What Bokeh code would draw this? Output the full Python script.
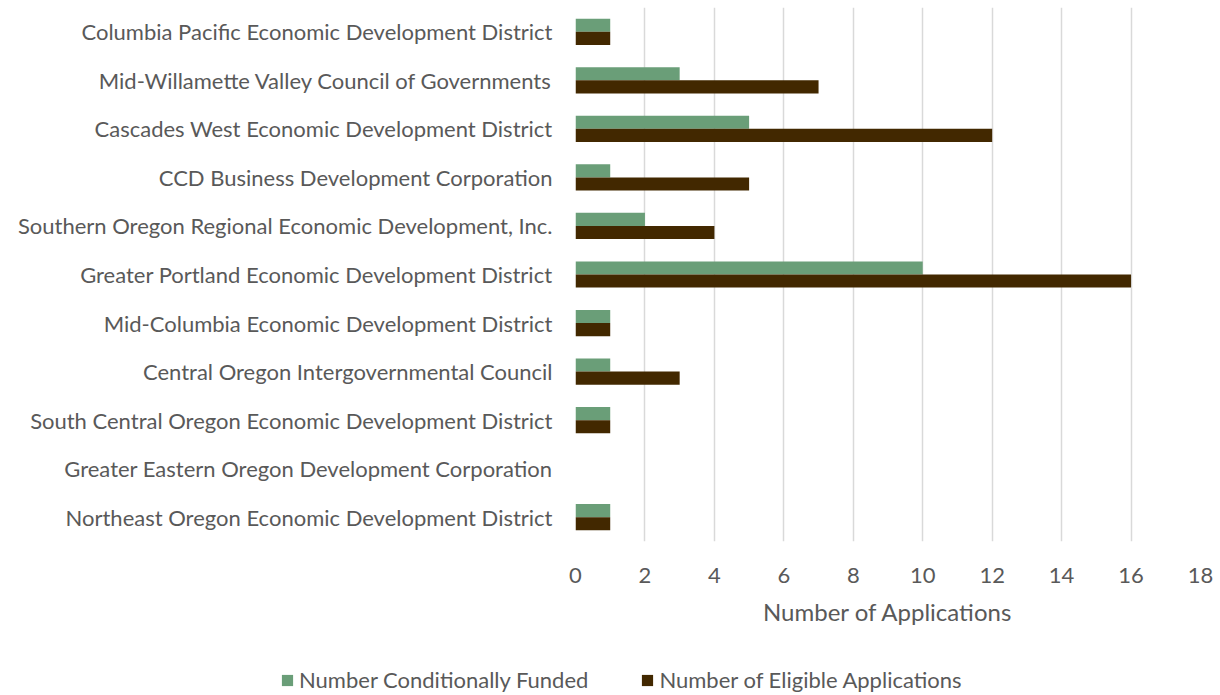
from bokeh.plotting import figure
from bokeh.models import Range1d, FixedTicker, Legend, LegendItem, ColumnDataSource
from bokeh.embed import file_html
from bokeh.resources import INLINE

districts = [
    "Columbia Pacific Economic Development District",
    "Mid-Willamette Valley Council of Governments",
    "Cascades West Economic Development District",
    "CCD Business Development Corporation",
    "Southern Oregon Regional Economic Development, Inc.",
    "Greater Portland Economic Development District",
    "Mid-Columbia Economic Development District",
    "Central Oregon Intergovernmental Council",
    "South Central Oregon Economic Development District",
    "Greater Eastern Oregon Development Corporation",
    "Northeast Oregon Economic Development District",
]
funded = [1, 3, 5, 1, 2, 10, 1, 1, 1, 0, 1]
eligible = [1, 7, 12, 5, 4, 16, 1, 3, 1, 0, 1]
x_ticks = [0, 2, 4, 6, 8, 10, 12, 14, 16, 18]
series_labels = ["Number Conditionally Funded", "Number of Eligible Applications"]

GREEN = "#6A9E78"
BROWN = "#422800"
FONT = "Lato"
TXT = "#595959"

idx = list(range(len(districts)))
bh = 0.27
src = ColumnDataSource(dict(
    y_f=[i - bh / 2 for i in idx],
    y_e=[i + bh / 2 for i in idx],
    funded=funded,
    eligible=eligible,
))

p = figure(frame_width=625, frame_height=534, output_backend="svg", toolbar_location=None,
           x_range=Range1d(0, 18), y_range=Range1d(len(districts) - 0.5, -0.5),
           min_border_left=575, min_border_top=7, min_border_right=16, min_border_bottom=0)
p.outline_line_color = None
p.background_fill_color = "white"
p.border_fill_color = "white"

p.hbar(y="y_f", left=0, right="funded", height=bh, source=src, fill_color=GREEN, line_color=None)
p.hbar(y="y_e", left=0, right="eligible", height=bh, source=src, fill_color=BROWN, line_color=None)

p.xaxis.ticker = FixedTicker(ticks=x_ticks)
p.xaxis.axis_line_color = None
p.xaxis.major_tick_line_color = None
p.xaxis.minor_tick_line_color = None
p.xaxis.major_label_standoff = 20
p.xaxis.major_label_text_font = FONT
p.xaxis.major_label_text_font_size = "22px"
p.xaxis.major_label_text_color = TXT
p.xaxis.axis_label = "Number of Applications"
p.xaxis.axis_label_text_font = FONT
p.xaxis.axis_label_text_font_size = "24px"
p.xaxis.axis_label_text_font_style = "normal"
p.xaxis.axis_label_text_color = TXT
p.xaxis.axis_label_standoff = 11

p.yaxis.ticker = FixedTicker(ticks=idx)
p.yaxis.major_label_overrides = {i: d for i, d in enumerate(districts)}
p.yaxis.axis_line_color = None
p.yaxis.major_tick_line_color = None
p.yaxis.minor_tick_line_color = None
p.yaxis.major_label_standoff = 17
p.yaxis.major_label_text_font = FONT
p.yaxis.major_label_text_font_size = "22px"
p.yaxis.major_label_text_color = TXT

p.xgrid.grid_line_color = "#D9D9D9"
p.xgrid.grid_line_width = 1.5
p.ygrid.grid_line_color = None

# legend strip (a separate root figure with the same series, kept out of view)
lg = figure(width=1204, height=66, output_backend="svg", toolbar_location=None,
            x_range=Range1d(100, 101), y_range=Range1d(100, 101),
            x_axis_location=None, y_axis_location=None,
            min_border_left=0, min_border_right=0, min_border_top=0, min_border_bottom=0)
lg.outline_line_color = None
lg.xgrid.grid_line_color = None
lg.ygrid.grid_line_color = None
lf = lg.hbar(y="y_f", left=0, right="funded", height=bh, source=src, fill_color=GREEN, line_color=None)
le = lg.hbar(y="y_e", left=0, right="eligible", height=bh, source=src, fill_color=BROWN, line_color=None)

legend = Legend(items=[LegendItem(label=series_labels[0], renderers=[lf]),
                       LegendItem(label=series_labels[1], renderers=[le])],
                orientation="horizontal", location=(280, 1),
                label_text_font=FONT, label_text_font_size="22px", label_text_color=TXT,
                glyph_width=14, glyph_height=14, spacing=52, label_standoff=5,
                label_height=26,
                border_line_color=None, background_fill_alpha=0, margin=0, padding=0)
lg.add_layout(legend, "center")

open("out.html", "w").write(file_html([p, lg], INLINE))
